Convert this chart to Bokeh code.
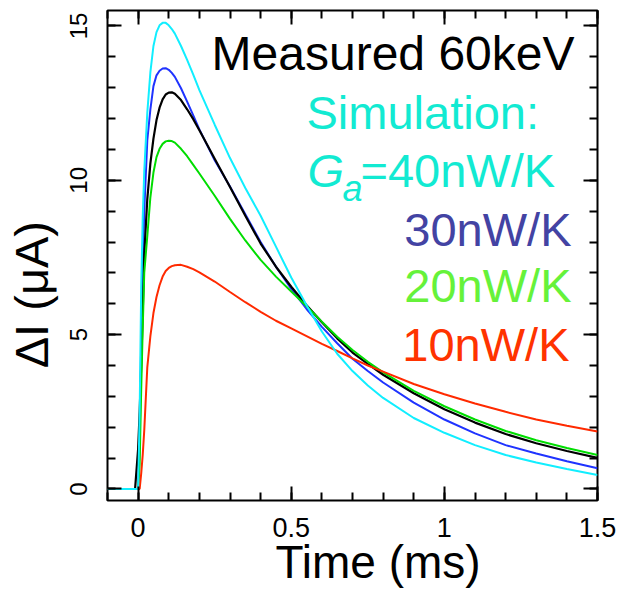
from bokeh.plotting import figure
from bokeh.models import Range1d, LinearAxis, FixedTicker, Label, Grid
from bokeh.embed import file_html
from bokeh.resources import INLINE

# ---- data ----
time_ms = [-0.10, -0.01, 0.00, 0.005, 0.01, 0.015, 0.02, 0.03, 0.04, 0.05,
           0.06, 0.07, 0.08, 0.09, 0.10, 0.11, 0.12, 0.14, 0.16, 0.18,
           0.20, 0.25, 0.30, 0.35, 0.40, 0.45, 0.50, 0.55, 0.60, 0.65,
           0.70, 0.75, 0.80, 0.90, 1.00, 1.10, 1.20, 1.30, 1.40, 1.50]

measured_60keV = [0, 0, 1.3, 2.5, 4.0, 5.7, 7.6, 9.4, 10.55, 11.35,
                  11.95, 12.35, 12.62, 12.78, 12.84, 12.85, 12.8, 12.6, 12.3, 11.98,
                  11.62, 10.7, 9.78, 8.85, 7.95, 7.2, 6.55, 5.95, 5.4, 4.88,
                  4.42, 4.05, 3.7, 3.1, 2.58, 2.15, 1.78, 1.48, 1.23, 1.01]

sim_40nWK = [0, 0, 0, 2.5, 6.5, 8.8, 10.3, 12.2, 13.5, 14.35,
             14.8, 15.02, 15.1, 15.1, 15.02, 14.9, 14.75, 14.35, 13.9, 13.42,
             12.92, 11.8, 10.72, 9.75, 8.85, 7.85, 6.85, 5.95, 5.1, 4.38,
             3.82, 3.35, 2.95, 2.3, 1.82, 1.42, 1.1, 0.86, 0.65, 0.45]

sim_30nWK = [0, 0, 0, 1.5, 4.8, 7.2, 9.0, 11.3, 12.3, 13.05,
             13.4, 13.55, 13.62, 13.63, 13.58, 13.48, 13.35, 12.98, 12.55, 12.1,
             11.65, 10.65, 9.8, 8.9, 8.0, 7.2, 6.48, 5.83, 5.25, 4.72,
             4.22, 3.82, 3.45, 2.8, 2.25, 1.8, 1.42, 1.15, 0.9, 0.67]

sim_20nWK = [0, 0, 0, 0.8, 3.2, 5.2, 7.0, 8.2, 9.45, 10.25,
             10.75, 11.02, 11.18, 11.26, 11.28, 11.27, 11.22, 11.02, 10.78, 10.5,
             10.22, 9.5, 8.75, 8.05, 7.42, 6.88, 6.4, 5.92, 5.42, 4.93,
             4.5, 4.12, 3.78, 3.18, 2.68, 2.25, 1.88, 1.58, 1.33, 1.1]

sim_10nWK = [0, 0, 0, 0, 0.5, 1.1, 1.9, 3.95, 4.95, 5.7,
             6.22, 6.6, 6.88, 7.06, 7.16, 7.22, 7.25, 7.26, 7.2, 7.12,
             7.02, 6.72, 6.38, 6.05, 5.74, 5.45, 5.2, 4.95, 4.7, 4.47,
             4.23, 4.0, 3.8, 3.4, 3.07, 2.77, 2.5, 2.25, 2.05, 1.86]

x_major = [0, 0.5, 1, 1.5]
x_minor = [round(-0.1 + 0.1 * i, 2) for i in range(17)]
y_major = [0, 5, 10, 15]
y_minor = list(range(0, 16))

NB = "\u00a0"
x_title = NB * 4 + "Time (ms)"
y_title = "ΔI (μA)" + NB * 6

# ---- layout constants ----
X0, X1 = -0.1, 1.5
Y0, Y1 = -0.373, 15.5
FL, FT, FW, FH = 107, 10, 490, 490
W, H = 619, 590
FONT = "Liberation Sans"


def px2x(px):
    return X0 + (px - FL) / FW * (X1 - X0)


def py2y(py):
    return Y1 - (py - FT) / FH * (Y1 - Y0)


p = figure(width=W, height=H, output_backend="svg", toolbar_location=None,
           x_range=Range1d(X0, X1), y_range=Range1d(Y0, Y1),
           x_axis_location=None, y_axis_location=None,
           min_border_left=FL, min_border_top=FT,
           min_border_right=W - FL - FW, min_border_bottom=H - FT - FH)
p.center = [c for c in p.center if not isinstance(c, Grid)]
p.outline_line_color = "black"
p.outline_line_width = 2
p.background_fill_color = "white"
p.border_fill_color = "white"


def make_axis(major, minor, labels, size=None, standoff=0, orient=None,
              title=None, title_size=None, title_standoff=0):
    ax = LinearAxis(ticker=FixedTicker(ticks=major, minor_ticks=minor))
    ax.axis_line_color = None
    ax.major_tick_in = 14
    ax.major_tick_out = 0
    ax.minor_tick_in = 8
    ax.minor_tick_out = 0
    ax.major_tick_line_width = 2
    ax.minor_tick_line_width = 2
    ax.major_tick_line_color = "black"
    ax.minor_tick_line_color = "black"
    if labels:
        ax.major_label_text_font = FONT
        ax.major_label_text_font_size = size
        ax.major_label_text_color = "black"
        ax.major_label_standoff = standoff
        if orient is not None:
            ax.major_label_orientation = orient
    else:
        ax.major_label_text_color = None
        ax.major_label_text_font_size = "1px"
        ax.major_label_standoff = 0
    if title is not None:
        ax.axis_label = title
        ax.axis_label_text_font = FONT
        ax.axis_label_text_font_size = title_size
        ax.axis_label_text_font_style = "normal"
        ax.axis_label_text_color = "black"
        ax.axis_label_standoff = title_standoff
    return ax


p.add_layout(make_axis(x_major, x_minor, True, "27px", 17,
                       title=x_title, title_size="46px", title_standoff=-4), "below")
p.add_layout(make_axis(y_major, y_minor, True, "24px", 20, "parallel",
                       title=y_title, title_size="47px", title_standoff=10), "left")
p.add_layout(make_axis(x_major, x_minor, False), "above")
p.add_layout(make_axis(y_major, y_minor, False), "right")

# ---- curves ----
p.line(time_ms, sim_30nWK, line_color="#1F33FF", line_width=2)
p.line(time_ms, measured_60keV, line_color="black", line_width=2.2)
p.line(time_ms, sim_20nWK, line_color="#00DD00", line_width=2)
p.line(time_ms, sim_10nWK, line_color="#FF2A00", line_width=2)
p.line(time_ms, sim_40nWK, line_color="#11EEFF", line_width=2)


def add_text(txt, px, py, size, color, align="left", style="normal"):
    # py is the wanted baseline; Bokeh's label anchor sits ~0.38 em above it
    py_anchor = py - 0.383 * size
    p.add_layout(Label(x=px2x(px), y=py2y(py_anchor), text=txt, text_align=align,
                       text_baseline="alphabetic", text_font=FONT,
                       text_font_size=f"{size}px", text_color=color,
                       text_font_style=style))


TURQ = "#12EAD2"
add_text("Measured 60keV", 574, 71.7, 48, "black", "right")
add_text("Simulation:", 306, 130, 47, TURQ)
add_text("G", 307, 188.3, 47, TURQ, style="italic")
add_text("a", 342, 202, 36, TURQ, style="italic")
add_text("=40nW/K", 360, 188.3, 47, TURQ)
add_text("30nW/K", 571, 246.7, 47, "#4343A3", "right")
add_text("20nW/K", 571, 303.3, 47, "#66F23A", "right")
add_text("10nW/K", 569, 361.7, 47, "#FF3300", "right")

open("out.html", "w").write(file_html(p, INLINE))
